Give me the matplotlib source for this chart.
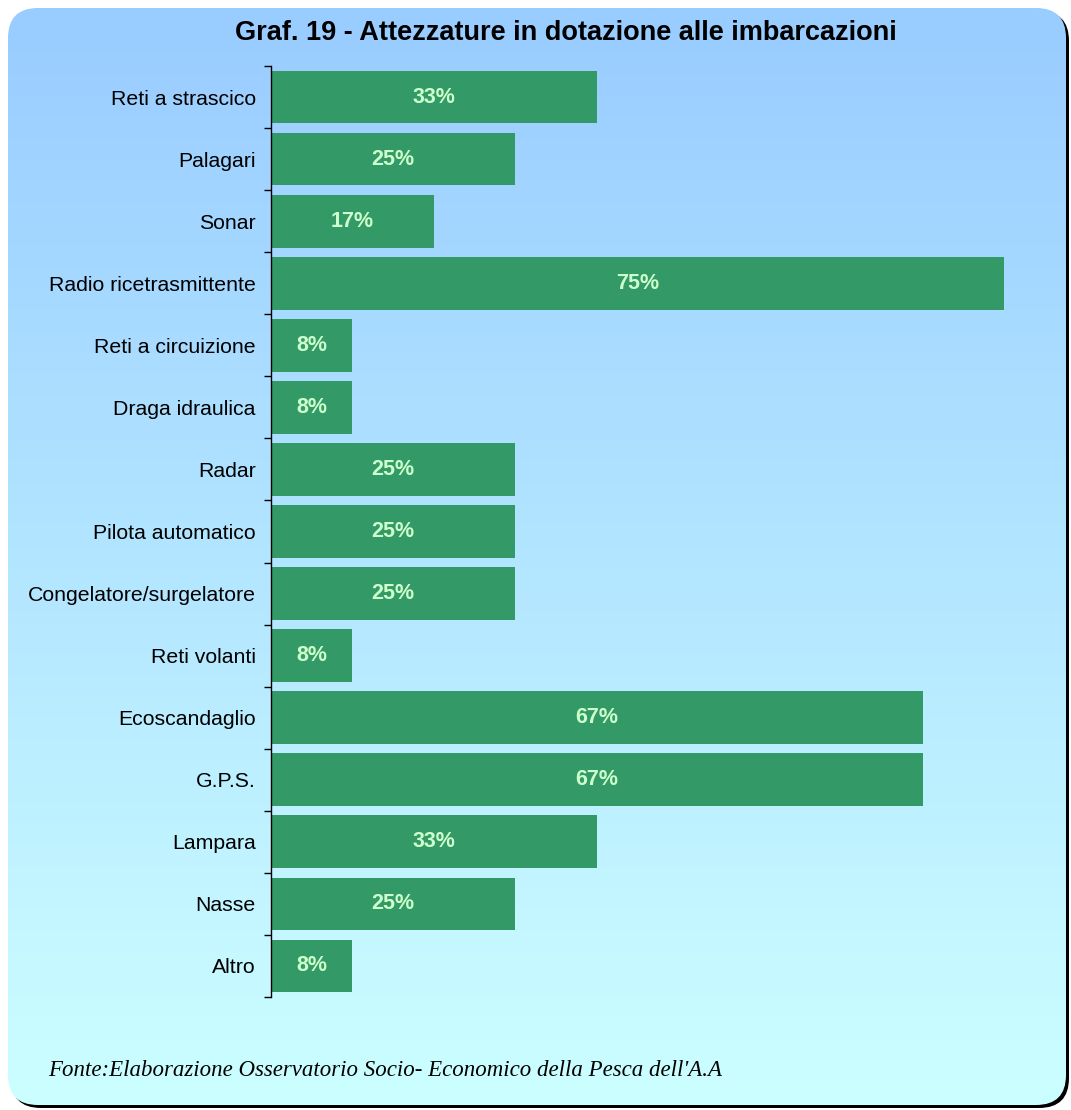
import matplotlib
matplotlib.use("Agg")
import matplotlib.pyplot as plt
import numpy as np
from matplotlib.patches import FancyBboxPatch

# --- dati ---
categorie = ["Reti a strascico", "Palagari", "Sonar", "Radio ricetrasmittente",
             "Reti a circuizione", "Draga idraulica", "Radar", "Pilota automatico",
             "Congelatore/surgelatore", "Reti volanti", "Ecoscandaglio", "G.P.S.",
             "Lampara", "Nasse", "Altro"]
percentuali = [33.3, 25.0, 16.7, 75.0, 8.3, 8.3, 25.0, 25.0, 25.0, 8.3, 66.7, 66.7, 33.3, 25.0, 8.3]
titolo = "Graf. 19 - Attezzature in dotazione alle imbarcazioni"
fonte = "Fonte:Elaborazione Osservatorio Socio- Economico della Pesca dell'A.A"

W, H = 1071, 1110
fig = plt.figure(figsize=(W / 100, H / 100), dpi=100)

# --- sfondo: riquadro arrotondato con gradiente e ombra ---
bg = fig.add_axes([0, 0, 1, 1])
bg.set_xlim(0, W); bg.set_ylim(H, 0); bg.axis("off")
shadow = FancyBboxPatch((11, 11), 1058, 1097, boxstyle="round,pad=0,rounding_size=30",
                        fc="black", ec="none", zorder=0)
bg.add_patch(shadow)
panel = FancyBboxPatch((8, 8), 1058, 1097, boxstyle="round,pad=0,rounding_size=30",
                       fc="none", ec="none", zorder=1)
bg.add_patch(panel)
top = np.array([0x99, 0xCC, 0xFF]) / 255
bot = np.array([0xCC, 0xFF, 0xFF]) / 255
t = np.linspace(0, 1, 256)[:, None]
grad = (top[None, :] * (1 - t) + bot[None, :] * t)[:, None, :]
im = bg.imshow(grad, extent=[8, 1066, 1105, 8], aspect="auto", interpolation="bilinear",
               zorder=2)
im.set_clip_path(panel)

# --- grafico a barre ---
ax = fig.add_axes([271 / W, 1 - 997 / H, 782 / W, 931 / H])
ax.set_facecolor("none")
y = np.arange(len(categorie))
ax.barh(y, percentuali, height=0.85, color="#339966")
ax.set_xlim(0, 80)
ax.set_ylim(len(categorie) - 0.5, -0.5)
for yi, v in zip(y, percentuali):
    ax.text(v / 2, yi, f"{v:.0f}%", ha="center", va="center", color="#CCFFCC",
            fontsize=15.5, fontweight="bold", family="Liberation Sans")

ax.set_yticks(y)
ax.set_yticklabels(categorie, fontsize=15.3, family="Liberation Sans")
ax.set_yticks(np.arange(len(categorie) + 1) - 0.5, minor=True)
ax.tick_params(axis="y", which="major", length=0, pad=11)
ax.tick_params(axis="y", which="minor", length=5, width=1, direction="out")
ax.set_xticks([])
for s in ["top", "right", "bottom"]:
    ax.spines[s].set_visible(False)
ax.spines["left"].set_linewidth(1)

fig.text(566 / W, 1 - 33 / H, titolo, ha="center", va="center", fontsize=19.5,
         fontweight="bold", family="Liberation Sans")
fig.text(48 / W, 1 - 1070 / H, fonte, ha="left", va="center", fontsize=16.5,
         style="italic", family="Liberation Serif")

fig.savefig("out.png", dpi=100, facecolor="white")
